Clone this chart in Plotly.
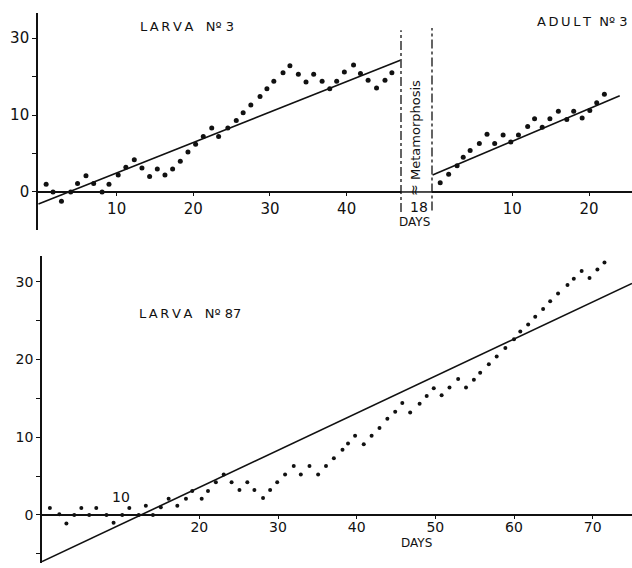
import plotly.graph_objects as go

# ---------------- data ----------------
larva3_days = [0.8, 1.7, 2.8, 4.0, 4.9, 6.0, 7.0, 8.1, 9.0, 10.2, 11.2, 12.3, 13.3, 14.3, 15.3,
               16.3, 17.3, 18.3, 19.3, 20.3, 21.3, 22.4, 23.3, 24.5, 25.6, 26.5, 27.5, 28.7,
               29.6, 30.5, 31.7, 32.6, 33.7, 34.7, 35.7, 36.8, 37.8, 38.7, 39.7, 40.9, 41.8,
               42.8, 43.9, 45.0, 45.9]
larva3_vals = [1.0, 0.0, -1.2, 0.0, 1.1, 2.1, 1.1, 0.0, 1.0, 2.2, 3.2, 4.2, 3.1, 2.0, 3.0,
               2.2, 3.0, 4.0, 5.2, 6.2, 7.2, 8.3, 7.2, 8.3, 9.3, 10.3, 11.3, 12.4,
               13.4, 14.4, 15.5, 16.4, 15.3, 14.3, 15.3, 14.4, 13.4, 14.4, 15.6, 16.5, 15.4,
               14.5, 13.5, 14.5, 15.5]
larva3_fit_days = [-0.2, 47.0]
larva3_fit_vals = [-1.56, 17.1]

adult3_days = [0.6, 1.7, 2.8, 3.6, 4.5, 5.7, 6.7, 7.7, 8.8, 9.8, 10.8, 12.0, 12.9, 13.9,
               14.9, 16.0, 17.1, 18.0, 19.1, 20.1, 21.0, 22.0]
adult3_vals = [1.2, 2.3, 3.4, 4.5, 5.4, 6.3, 7.5, 6.3, 7.4, 6.5, 7.4, 8.5, 9.5, 8.4,
               9.5, 10.5, 9.4, 10.5, 9.6, 10.6, 11.6, 12.7]
adult3_fit_days = [-0.4, 24.0]
adult3_fit_vals = [2.2, 12.5]

larva87_days = [1.0, 2.2, 3.1, 4.1, 5.0, 6.0, 6.9, 8.2, 9.1, 10.2, 11.1, 12.3, 13.2, 14.1,
                15.1, 16.1, 17.2, 18.3, 19.1, 20.3, 21.1, 22.1, 23.1, 24.1, 25.1, 26.1,
                27.0, 28.1, 29.0, 29.9, 30.9, 32.0, 32.9, 34.0, 35.1, 36.1, 37.1, 38.2,
                38.9, 39.8, 40.9, 41.9, 42.9, 43.9, 44.9, 45.8, 46.8, 48.0, 48.9, 49.8,
                50.8, 51.8, 52.9, 53.9, 54.9, 55.7, 56.8, 57.8, 58.9, 60.0, 60.8, 61.8,
                62.7, 63.7, 64.6, 65.6, 66.8, 67.6, 68.6, 69.6, 70.6, 71.5]
larva87_vals = [0.9, 0.1, -1.1, 0.0, 0.9, 0.0, 0.9, 0.0, -1.0, 0.0, 0.9, 0.0, 1.2, 0.0,
                1.0, 2.1, 1.2, 2.1, 3.1, 2.1, 3.1, 4.2, 5.2, 4.2, 3.2, 4.2,
                3.2, 2.2, 3.2, 4.2, 5.2, 6.3, 5.2, 6.3, 5.2, 6.3, 7.3, 8.4,
                9.2, 10.2, 9.1, 10.2, 11.2, 12.4, 13.3, 14.4, 13.2, 14.3, 15.3, 16.3,
                15.4, 16.4, 17.5, 16.4, 17.4, 18.3, 19.4, 20.4, 21.5, 22.6, 23.6, 24.5,
                25.5, 26.5, 27.5, 28.5, 29.6, 30.4, 31.4, 30.5, 31.6, 32.5]
larva87_fit_days = [0.0, 75.0]
larva87_fit_vals = [-6.0, 29.8]

top_ytick_vals = [0, 5, 10, 15, 20]
top_ytick_text = ["0", "", "10", "", "30"]
bot_ytick_vals = [-5, 0, 5, 10, 15, 20, 25, 30]
bot_ytick_text = ["", "0", "", "10", "", "20", "", "30"]
larva_xticks = [10, 20, 30, 40]
adult_xticks = [10, 20]
bot_xticks = [20, 30, 40, 50, 60, 70]

# ---------------- layout geometry ----------------
W, H = 632, 568
FONT = "DejaVu Sans"
INK = "#111111"

def px(x):
    return x / W

def py(y):
    return 1 - y / H

top_ydom = [py(230), py(13)]
top_yrange = [-4.94, 23.25]
bot_ydom = [py(563), py(256)]
bot_yrange = [-6.18, 33.33]

def zero_pos(dom, rng):
    return dom[0] + (0 - rng[0]) / (rng[1] - rng[0]) * (dom[1] - dom[0])

top_zero = zero_pos(top_ydom, top_yrange)
bot_zero = zero_pos(bot_ydom, bot_yrange)

fig = go.Figure()

dot_top = dict(color=INK, size=5)
dot_bot = dict(color=INK, size=4)
fit_line = dict(color=INK, width=1.6)

fig.add_trace(go.Scatter(x=larva3_days, y=larva3_vals, mode="markers", marker=dot_top,
                         xaxis="x", yaxis="y", showlegend=False))
fig.add_trace(go.Scatter(x=larva3_fit_days, y=larva3_fit_vals, mode="lines", line=fit_line,
                         xaxis="x", yaxis="y", showlegend=False))
fig.add_trace(go.Scatter(x=adult3_days, y=adult3_vals, mode="markers", marker=dot_top,
                         xaxis="x3", yaxis="y", showlegend=False))
fig.add_trace(go.Scatter(x=adult3_fit_days, y=adult3_fit_vals, mode="lines", line=fit_line,
                         xaxis="x3", yaxis="y", showlegend=False))
fig.add_trace(go.Scatter(x=larva87_days, y=larva87_vals, mode="markers", marker=dot_bot,
                         xaxis="x2", yaxis="y2", showlegend=False))
fig.add_trace(go.Scatter(x=larva87_fit_days, y=larva87_fit_vals, mode="lines", line=fit_line,
                         xaxis="x2", yaxis="y2", showlegend=False))

tickfont_top = dict(family=FONT, size=15, color=INK)
tickfont_bot = dict(family=FONT, size=14, color=INK)

xcommon = dict(showline=True, linecolor=INK, linewidth=1.5, showgrid=False, zeroline=False,
               ticks="outside", ticklen=3, tickcolor=INK, anchor="free")
ycommon = dict(showline=True, linecolor=INK, linewidth=1.6, showgrid=False, zeroline=False,
               ticks="outside", ticklen=4, tickcolor=INK, tickmode="array")

fig.update_layout(
    width=W, height=H,
    margin=dict(l=0, r=0, t=0, b=0),
    paper_bgcolor="white", plot_bgcolor="white",
    xaxis=dict(**xcommon, domain=[px(38), px(401)], range=[-0.26, 47.09],
               tickmode="array", tickvals=larva_xticks, tickfont=tickfont_top,
               position=top_zero),
    xaxis3=dict(**xcommon, domain=[px(432), 1.0], range=[-0.47, 25.6],
                tickmode="array", tickvals=adult_xticks, tickfont=tickfont_top,
                position=top_zero),
    yaxis=dict(**ycommon, domain=top_ydom, range=top_yrange, anchor="x",
               tickvals=top_ytick_vals, ticktext=top_ytick_text, tickfont=tickfont_top),
    xaxis2=dict(**xcommon, domain=[px(42), 1.0], range=[0, 75.0],
                tickmode="array", tickvals=bot_xticks, tickfont=tickfont_bot,
                position=bot_zero, ticklabelstandoff=-4),
    yaxis2=dict(**ycommon, domain=bot_ydom, range=bot_yrange, anchor="x2",
                tickvals=bot_ytick_vals, ticktext=bot_ytick_text, tickfont=tickfont_bot),
)

# metamorphosis break: dash-dot verticals and continuing zero line
fig.add_shape(type="line", xref="x domain", yref="y", x0=1, x1=1, y0=-2.6, y1=21.0,
              line=dict(color=INK, width=1.3, dash="dashdot"))
fig.add_shape(type="line", xref="x3 domain", yref="y", x0=0, x1=0, y0=-2.4, y1=21.3,
              line=dict(color=INK, width=1.3, dash="dashdot"))
fig.add_shape(type="line", xref="paper", yref="y", x0=px(401), x1=px(432), y0=0, y1=0,
              line=dict(color=INK, width=1.5))

TS = "\u2009"
def spaced(word):
    return TS.join(word)

lab = dict(family=FONT, size=13, color=INK)
ann = dict(xref="paper", yref="paper", showarrow=False, xanchor="center", yanchor="middle")
fig.add_annotation(text=spaced("LARVA") + "   N\u00ba 3", x=px(187), y=py(26), font=lab, **ann)
fig.add_annotation(text=spaced("ADULT") + "  N\u00ba 3", x=px(630), y=py(21), font=lab,
                   xref="paper", yref="paper", showarrow=False, xanchor="right", yanchor="middle")
fig.add_annotation(text=spaced("LARVA") + "   N\u00ba 87", x=px(190), y=py(313), font=lab, **ann)
fig.add_annotation(text="Metamorphosis", x=px(415), y=py(130), textangle=-90,
                   font=dict(family=FONT, size=13, color=INK), **ann)
fig.add_annotation(text="\u2248", x=px(414), y=py(190), textangle=-90,
                   font=dict(family=FONT, size=14, color=INK), **ann)
fig.add_annotation(text="18", x=px(419), y=py(207), font=dict(family=FONT, size=14, color=INK), **ann)
fig.add_annotation(text="DAYS", x=px(414), y=py(222), font=dict(family=FONT, size=12, color=INK), **ann)
fig.add_annotation(text="DAYS", x=px(416), y=py(543), font=dict(family=FONT, size=12, color=INK), **ann)
fig.add_annotation(text="10", x=10, y=2.3, xref="x2", yref="y2", showarrow=False,
                   xanchor="center", yanchor="middle",
                   font=dict(family=FONT, size=14, color=INK))

fig.write_html("out.html",
               config={"displayModeBar": False},
               post_script="document.body.style.margin='0';document.body.style.overflow='hidden';")
